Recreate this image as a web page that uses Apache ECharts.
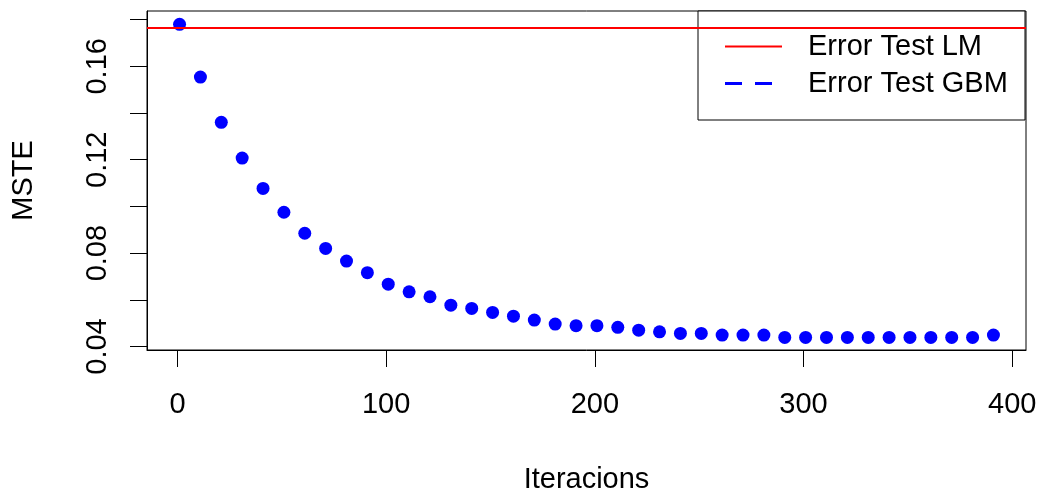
<!DOCTYPE html>
<html>
<head>
<meta charset="utf-8">
<title>MSTE vs Iteracions</title>
<script src="https://cdn.jsdelivr.net/npm/echarts@6/dist/echarts.min.js"></script>
<style>
  html, body { margin: 0; padding: 0; background: #fff; }
  #chart { width: 1041px; height: 493px; }
</style>
</head>
<body>
<div id="chart"></div>
<script>
// Boosting iterations at which the test error was recorded
const iterations = [
  1, 11, 21, 31, 41, 51, 61, 71, 81, 91,
  101, 111, 121, 131, 141, 151, 161, 171, 181, 191,
  201, 211, 221, 231, 241, 251, 261, 271, 281, 291,
  301, 311, 321, 331, 341, 351, 361, 371, 381, 391
];
// GBM test error (MSTE) at each recorded iteration
const gbmTestError = [
  0.1780, 0.1554, 0.1360, 0.1207, 0.1077, 0.0975, 0.0885, 0.0820, 0.0766, 0.0716,
  0.0667, 0.0634, 0.0613, 0.0577, 0.0563, 0.0546, 0.0530, 0.0513, 0.0496, 0.0489,
  0.0489, 0.0482, 0.0470, 0.0463, 0.0456, 0.0456, 0.0449, 0.0449, 0.0449, 0.0439,
  0.0439, 0.0439, 0.0439, 0.0439, 0.0439, 0.0439, 0.0439, 0.0439, 0.0439, 0.0449
];
// Test error of the linear model (constant reference line)
const lmTestError = 0.1765;

const xTickValues = [0, 100, 200, 300, 400];
const yTickValues = [0.04, 0.06, 0.08, 0.10, 0.12, 0.14, 0.16, 0.18];
const yLabelValues = [0.04, 0.08, 0.12, 0.16];

const seriesNames = ['Error Test LM', 'Error Test GBM'];

const FONT = "'Liberation Sans', Arial, Helvetica, sans-serif";
const FS = 29;

const gbmPoints = iterations.map((it, i) => [it, gbmTestError[i]]);

const chart = echarts.init(document.getElementById('chart'), null, { renderer: 'canvas' });

chart.setOption({
  animation: false,
  backgroundColor: '#ffffff',
  textStyle: { fontFamily: FONT, color: '#000' },
  grid: {
    left: 147, right: 15, top: 11, bottom: 143,
    outerBoundsMode: 'none',
    containLabel: false,
    show: true, borderColor: '#000', borderWidth: 1, backgroundColor: 'transparent'
  },
  xAxis: {
    type: 'value',
    min: -14.6,
    max: 406.6,
    name: 'Iteracions',
    nameLocation: 'middle',
    nameGap: 115,
    nameTextStyle: { fontFamily: FONT, fontSize: FS, color: '#000' },
    axisLine: { show: true, onZero: false, lineStyle: { color: '#000', width: 1 } },
    axisTick: { show: true, length: 17, customValues: xTickValues, lineStyle: { color: '#000', width: 1 } },
    axisLabel: {
      customValues: xTickValues,
      fontFamily: FONT, fontSize: FS, color: '#000', margin: 40
    },
    splitLine: { show: false }
  },
  yAxis: {
    type: 'value',
    min: 0.0385,
    max: 0.1837,
    name: 'MSTE',
    nameLocation: 'middle',
    nameRotate: 90,
    nameGap: 109,
    nameTextStyle: { fontFamily: FONT, fontSize: FS, color: '#000' },
    axisLine: { show: true, onZero: false, lineStyle: { color: '#000', width: 1 } },
    axisTick: { show: true, length: 17, customValues: yTickValues, lineStyle: { color: '#000', width: 1 } },
    axisLabel: {
      customValues: yLabelValues,
      rotate: 90,
      fontFamily: FONT, fontSize: FS, color: '#000', margin: 35,
      formatter: v => v.toFixed(2)
    },
    splitLine: { show: false }
  },
  legend: {
    orient: 'vertical',
    left: 698,
    top: 11,
    padding: [17, 7, 18, 27],
    itemGap: 0,
    itemWidth: 57,
    itemHeight: 4,
    backgroundColor: '#ffffff',
    borderColor: '#000',
    borderWidth: 1,
    borderRadius: 0,
    selectedMode: false,
    textStyle: {
      fontFamily: FONT, fontSize: FS, color: '#000',
      lineHeight: 28, width: 210, padding: [9, 0, 0, 21]
    },
    data: [
      { name: seriesNames[0], icon: 'path://M0,1h57v2h-57zM0,0M57,4' },
      { name: seriesNames[1], icon: 'path://M0,0.5h17v3h-17zM30,0.5h17v3h-17zM0,0M57,4' }
    ]
  },
  series: [
    {
      name: seriesNames[0],
      type: 'line',
      data: [],
      itemStyle: { color: '#ff0000' },
      lineStyle: { color: '#ff0000', width: 2 },
      markLine: {
        silent: true,
        precision: 4,
        symbol: ['none', 'none'],
        label: { show: false },
        lineStyle: { color: '#ff0000', width: 2, type: 'solid' },
        emphasis: { disabled: true },
        data: [{ yAxis: lmTestError }]
      }
    },
    {
      name: seriesNames[1],
      type: 'scatter',
      data: gbmPoints,
      symbol: 'circle',
      symbolSize: 13,
      itemStyle: { color: '#0000ff', opacity: 1 }
    }
  ]
});
</script>
</body>
</html>
